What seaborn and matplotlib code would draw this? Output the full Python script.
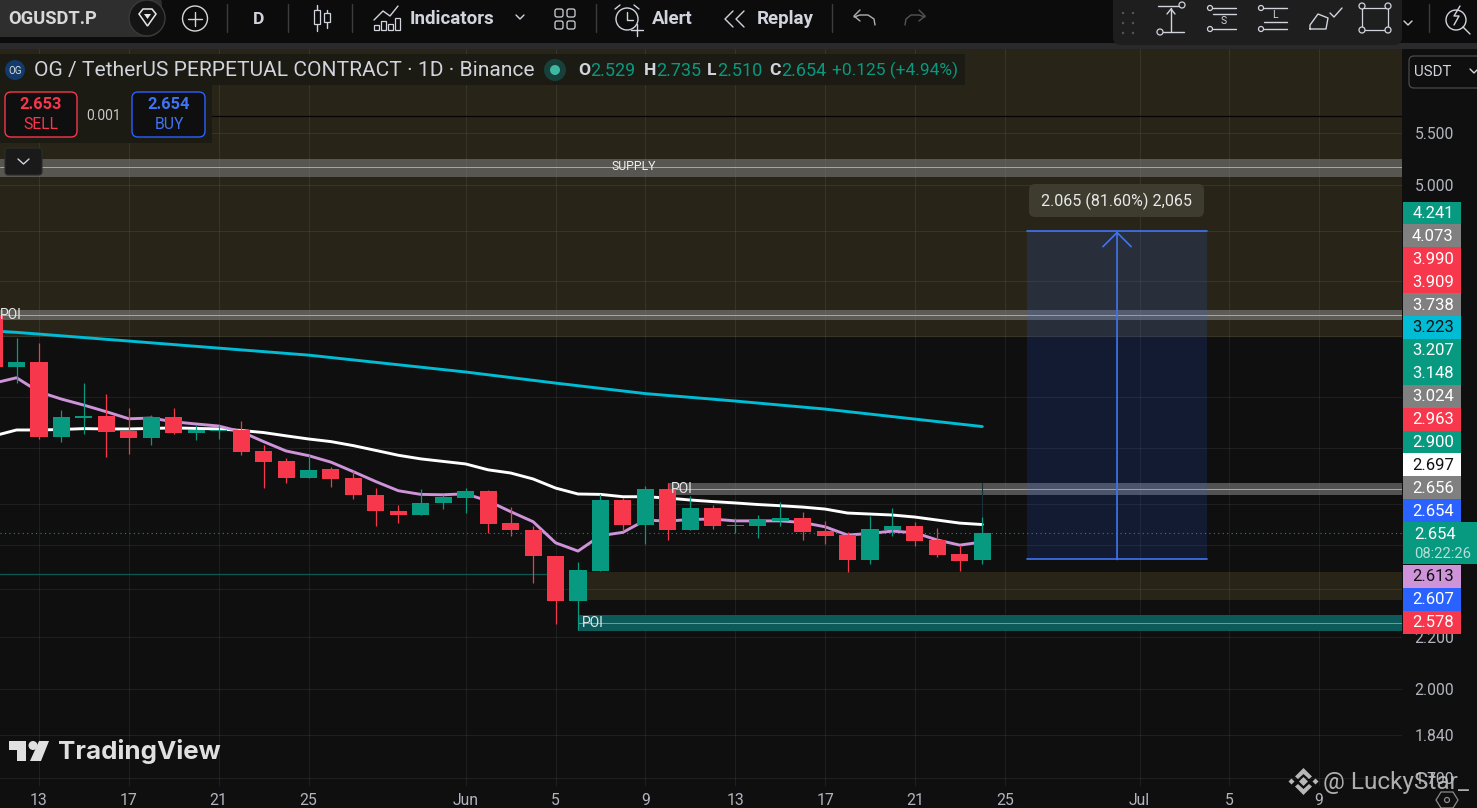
import numpy as np
import pandas as pd
import matplotlib
matplotlib.use("Agg")
import matplotlib.pyplot as plt
import matplotlib.dates as mdates
from matplotlib.patches import FancyBboxPatch, Rectangle, Circle, Polygon
from matplotlib.ticker import NullLocator
import seaborn as sns

# candles, OGUSDT.P daily
first_day = "2025-05-11"
opens = [3.947, 3.591, 3.624, 3.163, 3.273, 3.285, 3.197, 3.157, 3.279, 3.186, 3.197, 3.203, 3.083, 3.028, 2.936,
         2.984, 2.936, 2.846, 2.764, 2.744, 2.805, 2.830, 2.867, 2.704, 2.670, 2.547, 2.347, 2.479, 2.820, 2.695,
         2.877, 2.670, 2.779, 2.690, 2.690, 2.714, 2.729, 2.665, 2.646, 2.529, 2.670, 2.690, 2.622, 2.556, 2.529]
highs = [3.947, 3.786, 3.751, 3.321, 3.488, 3.419, 3.333, 3.291, 3.333, 3.232, 3.232, 3.255, 3.117, 3.044, 3.061,
         2.995, 2.973, 2.882, 2.794, 2.877, 2.846, 2.882, 2.872, 2.784, 2.690, 2.547, 2.519, 2.851, 2.830, 2.892,
         2.909, 2.841, 2.794, 2.729, 2.744, 2.810, 2.759, 2.714, 2.661, 2.739, 2.779, 2.709, 2.680, 2.598, 2.735]
lows = [3.591, 3.488, 3.152, 3.136, 3.180, 3.050, 3.067, 3.117, 3.180, 3.146, 3.151, 3.061, 2.882, 2.909, 2.936,
        2.887, 2.825, 2.690, 2.704, 2.744, 2.774, 2.754, 2.656, 2.641, 2.425, 2.251, 2.226, 2.479, 2.665, 2.603,
        2.622, 2.670, 2.675, 2.656, 2.632, 2.690, 2.622, 2.603, 2.474, 2.510, 2.641, 2.594, 2.542, 2.479, 2.510]
closes = [3.591, 3.624, 3.163, 3.279, 3.285, 3.192, 3.157, 3.279, 3.186, 3.203, 3.203, 3.078, 3.022, 2.936, 2.979,
          2.930, 2.846, 2.764, 2.744, 2.805, 2.835, 2.867, 2.700, 2.670, 2.547, 2.347, 2.483, 2.820, 2.695, 2.877,
          2.670, 2.779, 2.690, 2.695, 2.719, 2.729, 2.661, 2.641, 2.529, 2.675, 2.690, 2.617, 2.552, 2.524, 2.654]

# moving averages
white_ma = [3.169, 3.203, 3.203, 3.206, 3.211, 3.209, 3.209, 3.212, 3.215, 3.212, 3.209, 3.200, 3.188, 3.169, 3.151,
            3.136, 3.113, 3.086, 3.059, 3.039, 3.025, 3.011, 2.979, 2.962, 2.930, 2.882, 2.851, 2.849, 2.837, 2.837,
            2.830, 2.820, 2.812, 2.805, 2.797, 2.791, 2.784, 2.774, 2.754, 2.749, 2.744, 2.734, 2.719, 2.704, 2.697]
purple_ma = [3.488, 3.522, 3.433, 3.388, 3.351, 3.311, 3.269, 3.273, 3.251, 3.238, 3.226, 3.193, 3.136, 3.083, 3.057,
             3.021, 2.969, 2.916, 2.868, 2.849, 2.847, 2.852, 2.815, 2.761, 2.711, 2.609, 2.570, 2.643, 2.659, 2.719,
             2.714, 2.722, 2.724, 2.715, 2.715, 2.715, 2.707, 2.686, 2.646, 2.654, 2.665, 2.657, 2.622, 2.598, 2.613]
teal_dates = ["2025-05-11", "2025-05-12", "2025-05-13", "2025-05-17", "2025-05-21", "2025-05-25", "2025-06-01",
              "2025-06-05", "2025-06-09", "2025-06-13", "2025-06-17", "2025-06-21", "2025-06-24"]
teal_ma = [3.834, 3.825, 3.813, 3.765, 3.717, 3.670, 3.559, 3.488, 3.422, 3.376, 3.327, 3.267, 3.223]

# price axis
price_ticks = [5.5, 5.0, 4.6, 4.2, 3.8, 3.4, 3.1, 2.8, 2.6, 2.4, 2.2, 2.0, 1.84, 1.7]
price_tick_labels = ["5.500", "5.000", "", "", "", "", "", "", "", "", "2.200", "2.000", "1.840", "1.700"]
price_lim = (1.6766, 6.403)

# time axis
time_dates = ["2025-05-13", "2025-05-17", "2025-05-21", "2025-05-25", "2025-06-01", "2025-06-05", "2025-06-09",
              "2025-06-13", "2025-06-17", "2025-06-21", "2025-06-25", "2025-07-01", "2025-07-05", "2025-07-09"]
time_labels = ["13", "17", "21", "25", "Jun", "5", "9", "13", "17", "21", "25", "Jul", "5", "9"]
time_lim = ("2025-05-11 06:20", "2025-07-12 16:30")

# stacked price labels on the right
label_texts = ["4.241", "4.073", "3.990", "3.909", "3.738", "3.223", "3.207", "3.148", "3.024", "2.963", "2.900",
               "2.697", "2.656", "2.654"]
label_colors = ["#089981", "#808080", "#f7374b", "#f7374b", "#808080", "#00bcd4", "#089981", "#089981", "#808080",
                "#f7374b", "#089981", "#ffffff", "#808080", "#2962ff"]
lower_texts = ["2.613", "2.607", "2.578"]
lower_colors = ["#ce93d8", "#2962ff", "#f7374b"]

BG = "#0f0f0f"
OLIVE = "#282518"
GREEN = "#089981"
RED = "#f7374b"
BLUE = "#2962ff"
TEXT = "#b2b5be"

sns.set_theme(style="dark", rc={"axes.facecolor": BG, "figure.facecolor": BG})
plt.rcParams["font.family"] = ["Roboto", "DejaVu Sans"]

days = pd.date_range(first_day, periods=len(opens), freq="D")
df = pd.DataFrame({"day": mdates.date2num(days), "open": opens, "high": highs, "low": lows, "close": closes,
                   "white": white_ma, "purple": purple_ma})
df["color"] = np.where(df["close"] >= df["open"], GREEN, RED)
teal_df = pd.DataFrame({"day": mdates.date2num(pd.to_datetime(teal_dates)), "ma": teal_ma})


def num(d):
    return mdates.date2num(pd.Timestamp(d))


fig = plt.figure(figsize=(14.77, 8.08), dpi=100)
ax = fig.add_axes([0, 22 / 808, 1402 / 1477, 737 / 808])
ax.set_yscale("log")
left, right = num(time_lim[0]), num(time_lim[1])

#%%
# zones
ax.fill_between([left, right], 3.793, price_lim[1], color=OLIVE, lw=0, zorder=0.3)
ax.fill_between([num("2025-06-06"), right], 2.351, 2.474, color=OLIVE, lw=0, zorder=0.3)
ax.fill_between([left, right], 5.074, 5.242, color="#808080", alpha=0.55, lw=0, zorder=1)
ax.fill_between([left, right], 3.912, 3.984, color="#808080", alpha=0.6, lw=0, zorder=1)
ax.fill_between([num("2025-06-10"), right], 2.846, 2.907, color="#808080", alpha=0.6, lw=0, zorder=1)
ax.fill_between([num("2025-06-06"), right], 2.222, 2.288, color="#0c5a5a", lw=0, zorder=1)
ax.plot([left, right], [5.167, 5.167], color="#a8a8a8", lw=0.7, zorder=1.1)
ax.plot([left, right], [3.948, 3.948], color="#a8a8a8", lw=0.7, zorder=1.1)
ax.plot([num("2025-06-10"), right], [2.877, 2.877], color="#a8a8a8", lw=0.7, zorder=1.1)
ax.plot([num("2025-06-06"), right], [2.254, 2.254], color="#6f9f9c", lw=0.7, zorder=1.1)
ax.plot([left, right], [5.664, 5.664], color="#050505", lw=0.9, zorder=1.1)
ax.plot([left, num("2025-06-05")], [2.464, 2.464], color="#0b5a52", lw=0.9, zorder=1.1)
ax.plot([left, right], [2.654, 2.654], color=GREEN, lw=0.8, ls=(0, (1, 3)), zorder=1.1)
ax.plot([num("2025-06-24"), num("2025-06-24")], [2.735, 2.907], color="#17303a", lw=0.8, zorder=1.2)

# moving averages
sns.lineplot(data=teal_df, x="day", y="ma", color="#00bcd4", lw=2.1, errorbar=None, ax=ax, zorder=2)
sns.lineplot(data=df, x="day", y="white", color="#ffffff", lw=2.1, errorbar=None, ax=ax, zorder=2)
sns.lineplot(data=df, x="day", y="purple", color="#ce93d8", lw=2.1, errorbar=None, ax=ax, zorder=2)

# candles
ax.vlines(df["day"], df["low"], df["high"], colors=df["color"], lw=0.9, zorder=3)
ax.bar(df["day"], (df["close"] - df["open"]).abs(), bottom=df[["open", "close"]].min(axis=1), width=0.76,
       color=df["color"], lw=0, zorder=3.1)

# long position tool
pos_left, pos_right, pos_mid = num("2025-06-26"), num("2025-07-04"), num("2025-06-30")
ax.fill_between([pos_left, pos_right], 2.531, 4.596, color=BLUE, alpha=0.15, lw=0, zorder=4)
ax.plot([pos_left, pos_right], [4.596, 4.596], color="#3f74f5", lw=1.2, zorder=4.1)
ax.plot([pos_left, pos_right], [2.531, 2.531], color="#3f74f5", lw=1.2, zorder=4.1)
ax.annotate("", xy=(pos_mid, 4.596), xytext=(pos_mid, 2.531), zorder=4.2,
            arrowprops=dict(arrowstyle="->,head_length=0.7,head_width=0.7", color="#3f74f5", lw=1.2,
                            mutation_scale=14.5, shrinkA=0, shrinkB=0))

# zone tags
poi_style = dict(color="#e8e8e8", fontsize=10, va="center", zorder=5)
ax.text(left - 0.02, 3.948, "POI", **poi_style)
ax.text(num("2025-06-10") + 0.15, 2.877, "POI", **poi_style)
ax.text(num("2025-06-06") + 0.15, 2.254, "POI", **poi_style)
ax.text(num("2025-05-13") + 26.5, 5.167, "SUPPLY", color="#f0f0f0", fontsize=8.8, va="center", ha="center", zorder=5)

ax.set_xlim(left, right)
ax.set_ylim(*price_lim)
ax.set_xticks([num(d) for d in time_dates])
ax.set_xticklabels(time_labels)
ax.yaxis.tick_right()
ax.set_yticks(price_ticks)
ax.set_yticklabels(price_tick_labels)
ax.yaxis.set_minor_locator(NullLocator())
ax.tick_params(axis="x", length=0, pad=5, labelsize=11.3, labelcolor=TEXT)
ax.tick_params(axis="y", length=0, pad=9, labelsize=11.3, labelcolor=TEXT)
ax.set_xlabel("")
ax.set_ylabel("")
ax.set_axisbelow(True)
ax.grid(True, color="#ffffff", alpha=0.07, lw=0.8)
for s in ax.spines.values():
    s.set_visible(False)

#%%
# screen chrome, drawn in pixel coordinates
ui = fig.add_axes([0, 0, 1, 1], zorder=10)
ui.set_xlim(0, 1477)
ui.set_ylim(808, 0)
ui.axis("off")
ui.patch.set_alpha(0)


def box(x0, y0, x1, y1, face, edge="none", lw=0, round_px=0, alpha=None, z=1):
    if round_px:
        p = FancyBboxPatch((x0 + round_px, y0 + round_px), x1 - x0 - 2 * round_px, y1 - y0 - 2 * round_px,
                           boxstyle="round,pad=%d" % round_px, fc=face, ec=edge, lw=lw, alpha=alpha, zorder=z)
    else:
        p = Rectangle((x0, y0), x1 - x0, y1 - y0, fc=face, ec=edge, lw=lw, alpha=alpha, zorder=z)
    ui.add_patch(p)


def label(x, y, s, color="#d1d4dc", size=10.5, ha="left", weight="normal", z=3, family=None, alpha=None):
    return ui.text(x, y + 1.5, s, color=color, fontsize=size, ha=ha, va="center", fontweight=weight, zorder=z,
                   family=family, alpha=alpha)


def stroke(xs, ys, color="#d1d4dc", lw=1.0, z=3):
    ui.plot(xs, ys, color=color, lw=lw, zorder=z, solid_capstyle="round")


# top bar
box(0, 0, 1477, 43, "#0c0c0c")
box(0, 43, 1477, 49, "#2a2a2c")
box(-30, -10, 162, 37, "#2e2e2e", round_px=16)
ui.add_patch(Circle((147, 18), 18, fc="#141414", ec="#3a3a3a", lw=1, zorder=2))
label(8, 18, "OGUSDT.P", size=13.2, weight="bold", color="#d8d8d8")
ui.add_patch(Polygon([[139, 14], [143, 9], [152, 9], [156, 14], [147.5, 26]], fc="none", ec="#e8e8e8", lw=1.1, zorder=3))
ui.add_patch(Polygon([[144, 14], [151, 14], [147.5, 19]], fc="#e8e8e8", ec="none", zorder=3))
ui.add_patch(Circle((195, 18.5), 12.5, fc="none", ec="#d8d8d8", lw=1, zorder=3))
stroke([188, 202], [18.5, 18.5])
stroke([195, 195], [11.5, 25.5])
for x in [227, 288, 352, 596, 832, 1429]:
    stroke([x, x], [4, 32], color="#3c3c3c")
label(259, 17.5, "D", size=12.5, ha="center", weight="bold")
stroke([317, 317], [5, 31])
box(314, 10, 320, 24, "#0c0c0c", "#d1d4dc", 0.9, z=4)
stroke([327, 327], [10, 28])
box(324, 13, 330, 22, "#0c0c0c", "#d1d4dc", 0.9, z=4)
stroke([374, 383, 390, 398], [20, 11, 16, 6])
for bx, top in [(374, 25), (381, 21), (388, 24), (395, 18)]:
    box(bx, top, bx + 5, 30, "none", "#d1d4dc", 0.9, z=3)
label(410, 17.5, "Indicators", size=13.5, weight="bold")
stroke([516, 520, 524], [15, 19, 15])
for gx in [555, 567]:
    for gy in [9, 21]:
        box(gx, gy, gx + 8, gy + 8, "none", "#d1d4dc", 0.9, round_px=2, z=3)
ui.add_patch(Circle((627, 19), 11, fc="none", ec="#d1d4dc", lw=1, zorder=3))
stroke([627, 627, 633], [12, 20, 20])
stroke([631, 643], [30, 30])
stroke([637, 637], [24, 36])
stroke([615, 620], [9, 5])
stroke([634, 639], [5, 9])
label(652, 17.5, "Alert", size=13.5, weight="bold")
stroke([733, 725, 733], [11, 19, 27])
stroke([744, 736, 744], [11, 19, 27])
label(757, 17.5, "Replay", size=13.5, weight="bold")
# undo and redo
stroke([854, 860, 868, 874, 875], [17, 15, 15, 19, 25], color="#b0b0b0")
stroke([860, 854, 860], [10, 16, 21], color="#b0b0b0")
stroke([925, 919, 911, 906, 905], [17, 15, 15, 19, 25], color="#555555")
stroke([919, 925, 919], [10, 16, 21], color="#555555")

# drawing tools panel
box(1113, -10, 1402, 45, "#1e1e1e", round_px=8, z=2)
for dx in [1123, 1133]:
    for dy in [14, 24, 34]:
        ui.add_patch(Circle((dx, dy - 1), 1.2, fc="#555555", ec="none", zorder=3))
stroke([1158, 1179], [6, 6])
ui.add_patch(Circle((1182, 5), 3, fc="none", ec="#d1d4dc", lw=0.9, zorder=3))
stroke([1171, 1171], [8, 32])
stroke([1167, 1171, 1175], [14, 9, 14])
stroke([1163, 1184], [32, 32])
ui.add_patch(Circle((1160, 32), 3, fc="none", ec="#d1d4dc", lw=0.9, zorder=3))
for base, tag in [(1208, "S"), (1259, "L")]:
    stroke([base + 5, base + 28], [8, 8])
    stroke([base + 5, base + 28], [14 if tag == "S" else 22, 14 if tag == "S" else 22])
    stroke([base + 5, base + 28], [29, 29])
    ui.add_patch(Circle((base + 2, 8), 2.5, fc="none", ec="#d1d4dc", lw=0.9, zorder=3))
    ui.add_patch(Circle((base + 2, 29), 2.5, fc="none", ec="#d1d4dc", lw=0.9, zorder=3))
    label(base + 16, 20 if tag == "S" else 13.5, tag, size=7.5, ha="center")
stroke([1310, 1310, 1318, 1328, 1326, 1310], [29, 25, 14, 18, 29, 29])
stroke([1330, 1334, 1342], [13, 17, 8])
box(1362, 8, 1388, 30, "none", "#d1d4dc", 0.9, z=3)
for cx, cy in [(1362, 6), (1388, 6), (1362, 30), (1388, 30)]:
    ui.add_patch(Circle((cx, cy), 3, fc="#1e1e1e", ec="#d1d4dc", lw=0.9, zorder=4))
stroke([1404, 1408, 1412], [21, 25, 21])
ui.add_patch(Circle((1456, 20), 10, fc="none", ec="#d1d4dc", lw=1, zorder=3))
stroke([1463, 1470], [27, 34])
stroke([1460, 1454, 1459, 1454], [6, 16, 16, 25])

# legend row
box(0, 54, 965, 85, "#1b1a13")
box(0, 85, 212, 143, "#1b1a13")
ui.add_patch(Circle((15, 70), 10, fc="#123a6b", ec="none", zorder=3))
label(15, 69, "OG", size=7, ha="center", color="#e0e0e0")
label(34, 69, "OG / TetherUS PERPETUAL CONTRACT · 1D · Binance", size=15.15, color="#d1d4dc")
ui.add_patch(Circle((555, 70), 11, fc="#17403a", ec="none", zorder=3))
ui.add_patch(Circle((555, 70), 5, fc="#3fb8a2", ec="none", zorder=4))
ohlc = [(578, "O", "2.529"), (644, "H", "2.735"), (707, "L", "2.510"), (769, "C", "2.654")]
for x, k, v in ohlc:
    label(x, 69, k, size=12.6, color="#d1d4dc", weight="bold")
    label(x + (12 if k != "L" else 10), 69, v, size=13, color=GREEN)
label(832, 69, "+0.125 (+4.94%)", size=12.5, color=GREEN)

# order buttons
box(5, 92, 77, 137, BG, RED, 1, round_px=6)
label(41, 103, "2.653", color=RED, size=11.8, ha="center", weight="bold")
label(41, 123, "SELL", color=RED, size=11.3, ha="center")
label(104, 114, "0.001", size=10, ha="center", color="#c8c8c8")
box(132, 92, 205, 137, BG, BLUE, 1, round_px=6)
label(169, 103, "2.654", color="#3f74f5", size=11.8, ha="center", weight="bold")
label(169, 123, "BUY", color="#3f74f5", size=11.3, ha="center")
box(5, 148, 42, 175, "#1a1a1a", "#2c2c2c", 0.8, round_px=3, z=4)
stroke([18, 23.5, 29], [159, 164, 159], z=5)

# profit tag
box(1029, 184, 1204, 217, "#3e3b2f", round_px=6)
label(1116.5, 200, "2.065 (81.60%) 2,065", size=11.6, ha="center", color="#e8e8e8")

# watermarks
ui.add_patch(Polygon([[9, 741], [26, 741], [26, 761], [17, 761], [17, 750], [9, 750]], fc="#e0e0e0", ec="none", zorder=3))
ui.add_patch(Circle((33, 745.5), 4.5, fc="#e0e0e0", ec="none", zorder=3))
ui.add_patch(Polygon([[39, 741], [49, 741], [41, 761], [30, 761]], fc="#e0e0e0", ec="none", zorder=3))
label(58, 750, "TradingView", size=18.7, weight="bold", color="#e0e0e0", family=["Inter", "DejaVu Sans"])
wm = "#b8b8b8"
ui.add_patch(Polygon([[1303.5, 768], [1312, 776.5], [1309, 779], [1303.5, 774], [1298, 779], [1295, 776.5]],
                     fc=wm, ec="none", zorder=6))
ui.add_patch(Polygon([[1303.5, 795], [1312, 786.5], [1309, 784], [1303.5, 789], [1298, 784], [1295, 786.5]],
                     fc=wm, ec="none", zorder=6))
for mx, my, r in [(1303.5, 781.5, 4.5), (1291.5, 781.5, 3), (1315.5, 781.5, 3)]:
    ui.add_patch(Polygon([[mx - r, my], [mx, my - r], [mx + r, my], [mx, my + r]], fc=wm, ec="none", zorder=6))
label(1323, 781, "@ LuckyStar_", size=17.6, color="#c0c0c0", z=6, alpha=0.9)
ui.add_patch(Polygon([[1436, 800], [1441, 792], [1453, 792], [1458, 800], [1453, 808], [1441, 808]], fc="none",
                     ec="#8a8a8a", lw=0.9, zorder=6))
ui.add_patch(Circle((1447, 800), 2.5, fc="none", ec="#8a8a8a", lw=0.9, zorder=6))

# right side price labels
box(1402, 49, 1477, 100, BG, z=0.5)
box(1409, 56, 1490, 88, BG, "#4a4a4a", 0.9, round_px=5)
label(1414, 70, "USDT", size=10.8, color="#d1d4dc")
stroke([1470, 1474, 1478], [69, 73, 69])

for i, (txt, col) in enumerate(zip(label_texts, label_colors)):
    cy = 213 + i * 22.9
    box(1403, cy - 11.5, 1461, cy + 11.5, col, z=4)
    dark = col in ("#00bcd4", "#ffffff")
    label(1433, cy - 1, txt, color="#111111" if dark else "#ffffff", size=12, ha="center", z=5)
box(1403, 522, 1477, 564, GREEN, z=4)
label(1414, 533, "2.654", color="#ffffff", size=12, z=5)
label(1414, 552, "08:22:26", color="#b5e0d8", size=10.6, z=5)
for i, (txt, col) in enumerate(zip(lower_texts, lower_colors)):
    cy = 576 + i * 23
    box(1403, cy - 11.5, 1461, cy + 11.5, col, z=4)
    label(1433, cy - 1, txt, color="#111111" if col == "#ce93d8" else "#ffffff", size=12, ha="center", z=5)

fig.savefig("out.png", dpi=100, facecolor=BG)
